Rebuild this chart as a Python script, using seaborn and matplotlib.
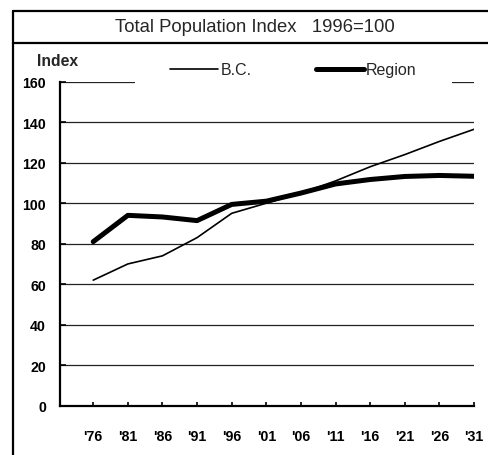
import matplotlib
matplotlib.use("Agg")
import matplotlib.pyplot as plt
import seaborn as sns
import pandas as pd
from matplotlib.lines import Line2D

years = [1976, 1981, 1986, 1991, 1996, 2001, 2006, 2011, 2016, 2021, 2026, 2031]
tick_labels = ["'76", "'81", "'86", "'91", "'96", "'01", "'06", "'11", "'16", "'21", "'26", "'31"]
bc = [62, 70, 74, 83, 95, 100, 105, 111, 118, 124, 130.5, 136.5]
region = [81, 94, 93.2, 91.4, 99.4, 101, 105, 109.5, 111.7, 113.2, 113.7, 113.3]
y_ticks = [0, 20, 40, 60, 80, 100, 120, 140, 160]

sns.set_style("ticks")
plt.rcParams['font.family'] = ['Liberation Sans', 'DejaVu Sans']

W, H = 488, 456
fig = plt.figure(figsize=(W / 100, H / 100), dpi=100)
ax = fig.add_axes([60 / W, 1 - 406.7 / H, (474 - 60) / W, (406.7 - 82.7) / H])

df = pd.DataFrame({"year": years, "B.C.": bc, "Region": region})
sns.lineplot(data=df, x="year", y="B.C.", color="black", linewidth=1.2, ax=ax, label="B.C.")
sns.lineplot(data=df, x="year", y="Region", color="black", linewidth=3.6, ax=ax, label="Region")

ax.set_xlim(1971.2, 2031)
ax.set_ylim(0, 160)
ax.set_xticks(years)
ax.set_xticklabels(tick_labels, fontsize=10.2, fontweight="bold")
ax.set_yticks(y_ticks)
ax.set_yticklabels([str(v) for v in y_ticks], fontsize=10.2, fontweight="bold")
ax.set_xlabel("")
ax.set_ylabel("")
ax.yaxis.grid(True, color="#222222", linewidth=0.9)
ax.set_axisbelow(True)
for s in ["top", "right"]:
    ax.spines[s].set_visible(False)
for s in ["left", "bottom"]:
    ax.spines[s].set_linewidth(1.6)
    ax.spines[s].set_color("black")
ax.tick_params(axis="x", direction="in", length=3, width=1.2, pad=17, colors="black")
ax.tick_params(axis="y", direction="in", length=4, width=1.2, pad=10, colors="black")

leg = ax.legend(loc="center", bbox_to_anchor=(293.5 / W, 1 - 71 / H), bbox_transform=fig.transFigure,
                ncol=2, frameon=True, fontsize=11.5, handlelength=3.0, handletextpad=0.15,
                columnspacing=4.0, borderpad=2.2, borderaxespad=0)
leg.get_frame().set_facecolor("white")
leg.get_frame().set_edgecolor("none")
leg.get_frame().set_alpha(1)

fig.text(37 / W, 1 - 61.7 / H, "Index", fontsize=11.3, fontweight="bold", ha="left", va="center")
fig.text(255 / W, 1 - 28 / H, "Total Population Index   1996=100", fontsize=13.3, ha="center", va="center")

# outer frame
fig.add_artist(Line2D([13 / W, 13 / W], [0, 1 - 12 / H], transform=fig.transFigure, color="black", linewidth=1.6))
fig.add_artist(Line2D([13 / W, 1], [1 - 12 / H, 1 - 12 / H], transform=fig.transFigure, color="black", linewidth=1.6))
fig.add_artist(Line2D([13 / W, 1], [1 - 44 / H, 1 - 44 / H], transform=fig.transFigure, color="black", linewidth=1.6))

fig.savefig("out.png", dpi=100)
